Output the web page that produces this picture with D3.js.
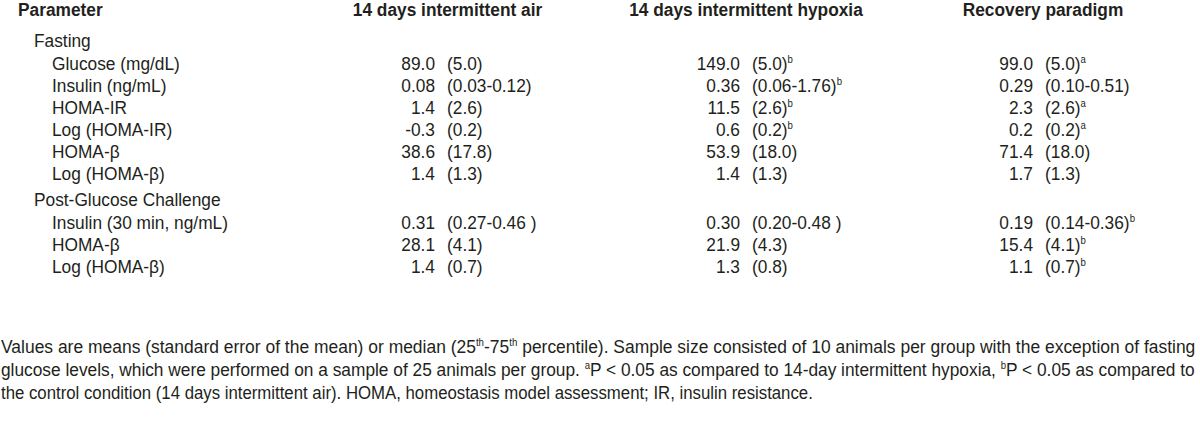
<!DOCTYPE html>
<html>
<head>
<meta charset="utf-8">
<script src="https://cdn.jsdelivr.net/npm/d3@7"></script>
<style>
  html, body { margin: 0; padding: 0; background: #fff; }
  svg { display: block; }
  text { font-family: "Liberation Sans", Arial, sans-serif; fill: #231f20; }
</style>
</head>
<body>
<svg id="chart" width="1200" height="428"></svg>
<script>
// ---- DATA ----
const columnHeaders = ["14 days intermittent air", "14 days intermittent hypoxia", "Recovery paradigm"];
const firstHeader = "Parameter";
const sections = ["Fasting", "Post-Glucose Challenge"];
const sectionOfRow = [0, 0, 0, 0, 0, 0, 1, 1, 1];
const parameters = ["Glucose (mg/dL)", "Insulin (ng/mL)", "HOMA-IR", "Log (HOMA-IR)", "HOMA-β", "Log (HOMA-β)",
                    "Insulin (30 min, ng/mL)", "HOMA-β", "Log (HOMA-β)"];

const airValues  = ["89.0", "0.08", "1.4", "-0.3", "38.6", "1.4", "0.31", "28.1", "1.4"];
const airSpread  = ["(5.0)", "(0.03-0.12)", "(2.6)", "(0.2)", "(17.8)", "(1.3)", "(0.27-0.46 )", "(4.1)", "(0.7)"];
const airSig     = ["", "", "", "", "", "", "", "", ""];

const hypValues  = ["149.0", "0.36", "11.5", "0.6", "53.9", "1.4", "0.30", "21.9", "1.3"];
const hypSpread  = ["(5.0)", "(0.06-1.76)", "(2.6)", "(0.2)", "(18.0)", "(1.3)", "(0.20-0.48 )", "(4.3)", "(0.8)"];
const hypSig     = ["b", "b", "b", "b", "", "", "", "", ""];

const recValues  = ["99.0", "0.29", "2.3", "0.2", "71.4", "1.7", "0.19", "15.4", "1.1"];
const recSpread  = ["(5.0)", "(0.10-0.51)", "(2.6)", "(0.2)", "(18.0)", "(1.3)", "(0.14-0.36)", "(4.1)", "(0.7)"];
const recSig     = ["a", "", "a", "a", "", "", "b", "b", "b"];

const footnoteLines = [
  [["Values are means (standard error of the mean) or median (25", ""], ["th", "sup"], ["-75", ""], ["th", "sup"], [" percentile). Sample size consisted of 10 animals per group with the exception of fasting", ""]],
  [["glucose levels, which were performed on a sample of 25 animals per group. ", ""], ["a", "sup"], ["P < 0.05 as compared to 14-day intermittent hypoxia, ", ""], ["b", "sup"], ["P < 0.05 as compared to", ""]],
  [["the control condition (14 days intermittent air). HOMA, homeostasis model assessment; IR, insulin resistance.", ""]]
];
const footnoteWidths = [1194, 1194, 812];

// ---- LAYOUT ----
const svg = d3.select("#chart");
const FS = 18.9, SX = 0.916, SUP = 10.5;

const columns = [
  {values: airValues, spread: airSpread, sig: airSig},
  {values: hypValues, spread: hypSpread, sig: hypSig},
  {values: recValues, spread: recSpread, sig: recSig}
];

// x positions: split point between value (right-aligned) and spread (left-aligned)
const xSplit = d3.scaleOrdinal().domain(d3.range(3)).range([441, 746, 1039]);
const gap = 6;

// y scale over line index (section headers + parameter rows)
const y = d3.scaleLinear().domain([1, 2]).range([70, 92]);
const sectionGap = 5;
const headingShift = -1.5;

// Build line list
const lines = [];
let li = 0;
sections.forEach((s, si) => {
  lines.push({type: "section", text: s, idx: li++, sec: si});
  parameters.forEach((p, i) => {
    if (sectionOfRow[i] === si) lines.push({type: "row", text: p, idx: li++, sec: si, row: i});
  });
});
const yOf = d => y(d.idx) + d.sec * sectionGap + (d.type === "section" ? headingShift : 0);

function putText(g, x, yy, anchor, weight) {
  return g.append("text")
    .attr("transform", `translate(${x},${yy}) scale(${SX},1)`)
    .attr("text-anchor", anchor)
    .attr("font-size", FS)
    .attr("font-weight", weight || "normal");
}

// header
const hdr = svg.append("g").attr("class", "header");
putText(hdr, 18, 15.5, "start", "bold").text(firstHeader);
columnHeaders.forEach((h, i) => putText(hdr, [447.5, 746, 1043][i], 15.5, "middle", "bold").text(h));

// rows
const body = svg.append("g").attr("class", "body");
lines.forEach(d => {
  const yy = yOf(d);
  if (d.type === "section") {
    putText(body, 34, yy, "start").text(d.text);
  } else {
    putText(body, 52, yy, "start").text(d.text);
    columns.forEach((c, ci) => {
      const xs = xSplit(ci);
      putText(body, xs - gap, yy, "end").text(c.values[d.row]);
      const t = putText(body, xs + gap, yy, "start");
      t.append("tspan").text(c.spread[d.row]);
      if (c.sig[d.row]) {
        t.append("tspan").attr("font-size", SUP).attr("dy", -7).text(c.sig[d.row]);
      }
    });
  }
});

// footnote: natural width measured, then scaled horizontally to the target width
const fy = d3.scaleLinear().domain([0, 1]).range([353, 376]);
const foot = svg.append("g").attr("class", "footnote");
footnoteLines.forEach((parts, i) => {
  const t = foot.append("text")
    .attr("x", 0).attr("y", 0)
    .attr("font-size", FS);
  let raised = false;
  parts.forEach(([s, kind]) => {
    const ts = t.append("tspan").text(s);
    if (kind === "sup") {
      ts.attr("font-size", SUP).attr("dy", raised ? 0 : -7);
      raised = true;
    } else {
      if (raised) ts.attr("dy", 7);
      raised = false;
    }
  });
  const w = t.node().getComputedTextLength();
  t.attr("transform", `translate(1,${fy(i)}) scale(${footnoteWidths[i] / w},1)`);
});
</script>
</body>
</html>
